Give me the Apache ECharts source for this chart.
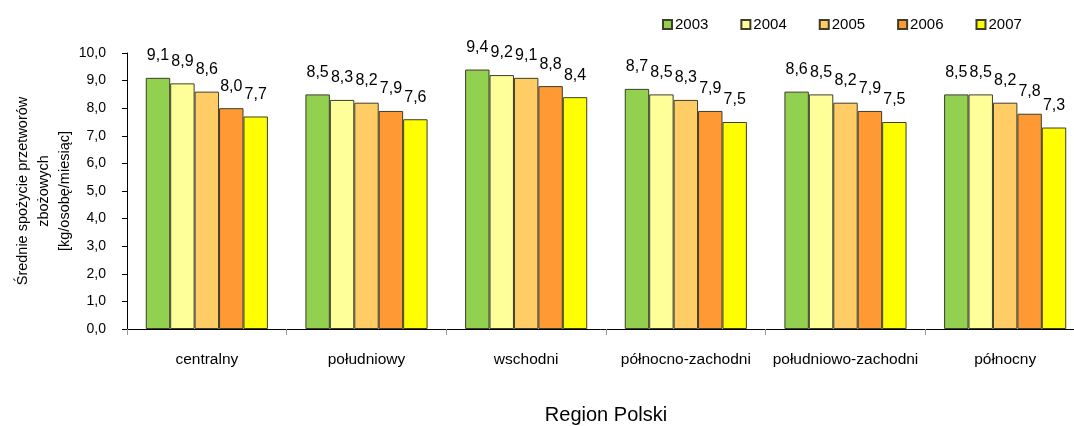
<!DOCTYPE html>
<html>
<head>
<meta charset="utf-8">
<script src="https://cdn.jsdelivr.net/npm/echarts@6/dist/echarts.min.js"></script>
<style>
  html, body { margin: 0; padding: 0; background: #fff; }
  #chart { width: 1074px; height: 426px; }
</style>
</head>
<body>
<div id="chart"></div>
<script>
// Regions of Poland (categories)
const regions = ['centralny', 'południowy', 'wschodni', 'północno-zachodni', 'południowo-zachodni', 'północny'];
// Years shown as series
const years = ['2003', '2004', '2005', '2006', '2007'];
// Average consumption of cereal products [kg/person/month], per region, for each year
const v2003 = [9.1, 8.5, 9.4, 8.7, 8.6, 8.5];
const v2004 = [8.9, 8.3, 9.2, 8.5, 8.5, 8.5];
const v2005 = [8.6, 8.2, 9.1, 8.3, 8.2, 8.2];
const v2006 = [8.0, 7.9, 8.8, 7.9, 7.9, 7.8];
const v2007 = [7.7, 7.6, 8.4, 7.5, 7.5, 7.3];
const seriesValues = [v2003, v2004, v2005, v2006, v2007];
const colors = ['#92D050', '#FFFF99', '#FFCC66', '#FF9933', '#FFFF00'];

const fmt = v => Number(v).toFixed(1).replace('.', ',');
const FONT = 'Liberation Sans, Arial, sans-serif';

const chart = echarts.init(document.getElementById('chart'));
chart.setOption({
  animation: false,
  textStyle: { fontFamily: FONT, color: '#000' },
  legend: {
    left: 662, top: 17, padding: 0,
    itemWidth: 9, itemHeight: 9, itemGap: 32,
    icon: 'rect',
    textStyle: { fontSize: 15, color: '#000', fontFamily: FONT, padding: [0, 0, 0, -2] },
    data: years
  },
  // the plot runs a little past the right edge of the canvas
  grid: { left: 127, right: -11, top: 53, bottom: 97, containLabel: false, outerBoundsMode: 'none' },
  xAxis: {
    type: 'category',
    data: regions,
    name: 'Region Polski',
    nameLocation: 'middle',
    nameGap: 76,
    nameTextStyle: { fontSize: 20, color: '#000', fontFamily: FONT },
    axisLine: { lineStyle: { color: '#000', width: 1 } },
    axisTick: { show: true, interval: 0, length: 6, lineStyle: { color: '#999' } },
    axisLabel: { interval: 0, fontSize: 15.5, color: '#000', margin: 23, fontFamily: FONT }
  },
  yAxis: {
    type: 'value',
    min: 0, max: 10, interval: 1,
    name: 'Średnie spożycie przetworów\nzbożowych\n[kg/osobę/miesiąc]',
    nameLocation: 'middle',
    nameRotate: 90,
    nameGap: 52,
    nameMoveOverlap: false,
    nameTextStyle: { fontSize: 14.5, color: '#000', lineHeight: 21, fontFamily: FONT },
    axisLine: { show: true, lineStyle: { color: '#000', width: 1 } },
    axisTick: { show: true, length: 5, lineStyle: { color: '#000' } },
    splitLine: { show: false },
    axisLabel: { fontSize: 14, color: '#000', margin: 21, formatter: fmt, fontFamily: FONT }
  },
  series: years.map((y, i) => ({
    name: y,
    type: 'bar',
    data: seriesValues[i],
    barGap: '0%',
    barCategoryGap: '23.5%',
    itemStyle: { color: colors[i], borderColor: '#3d3d2a', borderWidth: 1 },
    label: {
      show: true, position: 'top', distance: 14,
      fontSize: 16, color: '#000', fontFamily: FONT,
      formatter: p => fmt(p.value)
    }
  }))
});
</script>
</body>
</html>
